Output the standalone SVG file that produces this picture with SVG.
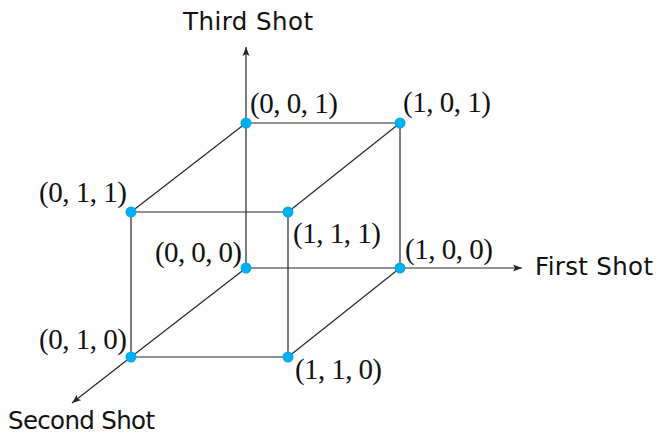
<svg xmlns="http://www.w3.org/2000/svg" width="659" height="434" viewBox="0 0 659 434">
<style>
.e{stroke:#262626;stroke-width:1.2;fill:none}
.ax{stroke:#262626;stroke-width:1.2;fill:none;marker-end:url(#arr)}
.v{fill:#00AEEF}
.lbl{font-family:"Liberation Serif","DejaVu Serif",serif;font-size:29px;fill:#111}
.ttl{font-family:"DejaVu Sans","Liberation Sans",sans-serif;font-size:24.5px;fill:#111}
</style>
<defs>
<marker id="arr" markerUnits="userSpaceOnUse" markerWidth="10" markerHeight="8" refX="9" refY="4" orient="auto">
<path d="M0,0.5 L9,4 L0,7.5 L2,4 Z" fill="#262626"/>
</marker>
</defs>
<g id="connectors">
<line class="e" x1="246" y1="123" x2="400" y2="123"/>
<line class="e" x1="131" y1="212" x2="288" y2="212"/>
<line class="e" x1="131" y1="212" x2="246" y2="123"/>
<line class="e" x1="288" y1="212" x2="400" y2="123"/>
<line class="e" x1="246" y1="268" x2="400" y2="268"/>
<line class="e" x1="131" y1="357" x2="288" y2="357"/>
<line class="e" x1="131" y1="357" x2="246" y2="268"/>
<line class="e" x1="288" y1="357" x2="400" y2="268"/>
<line class="e" x1="246" y1="123" x2="246" y2="268"/>
<line class="e" x1="400" y1="123" x2="400" y2="268"/>
<line class="e" x1="131" y1="212" x2="131" y2="357"/>
<line class="e" x1="288" y1="212" x2="288" y2="357"/>
<line class="ax" x1="246" y1="123" x2="246" y2="47"/>
<line class="ax" x1="400" y1="268" x2="522" y2="268"/>
<line class="ax" x1="131" y1="357" x2="72" y2="403"/>
</g>
<g id="axis-labels">
<text class="ttl" x="183" y="30" textLength="130">Third Shot</text>
<text class="ttl" x="535" y="275" textLength="118">First Shot</text>
<text class="ttl" x="8" y="429" textLength="147">Second Shot</text>
</g>
<g id="v001"><circle class="v" cx="246" cy="123" r="5.5"/><text class="lbl" x="250" y="113" textLength="88">(0, 0, 1)</text></g>
<g id="v101"><circle class="v" cx="400" cy="123" r="5.5"/><text class="lbl" x="403" y="112" textLength="88">(1, 0, 1)</text></g>
<g id="v011"><circle class="v" cx="131" cy="212" r="5.5"/><text class="lbl" x="39" y="202" textLength="88">(0, 1, 1)</text></g>
<g id="v111"><circle class="v" cx="288" cy="212" r="5.5"/><text class="lbl" x="293" y="243" textLength="88">(1, 1, 1)</text></g>
<g id="v000"><circle class="v" cx="246" cy="268" r="5.5"/><text class="lbl" x="155" y="262" textLength="87">(0, 0, 0)</text></g>
<g id="v100"><circle class="v" cx="400" cy="268" r="5.5"/><text class="lbl" x="405" y="259" textLength="88">(1, 0, 0)</text></g>
<g id="v010"><circle class="v" cx="131" cy="357" r="5.5"/><text class="lbl" x="39" y="349" textLength="88">(0, 1, 0)</text></g>
<g id="v110"><circle class="v" cx="288" cy="357" r="5.5"/><text class="lbl" x="295" y="379" textLength="87">(1, 1, 0)</text></g>
</svg>
